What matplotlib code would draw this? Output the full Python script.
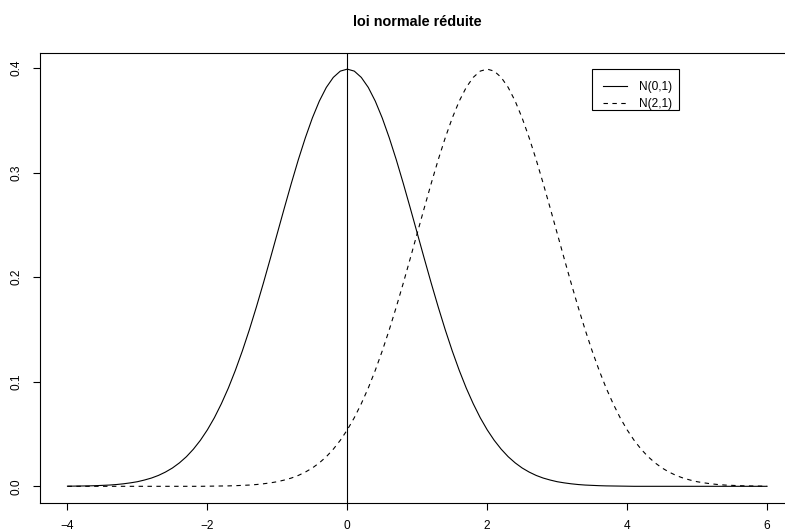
import matplotlib
matplotlib.use("Agg")
import matplotlib.pyplot as plt
from matplotlib.patches import Rectangle

plt.rcParams['font.family'] = ['Liberation Sans', 'DejaVu Sans']

title = "loi normale réduite"
labels = ["N(0,1)", "N(2,1)"]
xticks = [-4, -2, 0, 2, 4, 6]
yticks = [0.0, 0.1, 0.2, 0.3, 0.4]
ytick_labels = ["0.0", "0.1", "0.2", "0.3", "0.4"]

x = [-4.0, -3.9, -3.8, -3.7, -3.6, -3.5, -3.4, -3.3, -3.2, -3.1,
     -3.0, -2.9, -2.8, -2.7, -2.6, -2.5, -2.4, -2.3, -2.2, -2.1,
     -2.0, -1.9, -1.8, -1.7, -1.6, -1.5, -1.4, -1.3, -1.2, -1.1,
     -1.0, -0.9, -0.8, -0.7, -0.6, -0.5, -0.4, -0.3, -0.2, -0.1,
     0.0, 0.1, 0.2, 0.3, 0.4, 0.5, 0.6, 0.7, 0.8, 0.9,
     1.0, 1.1, 1.2, 1.3, 1.4, 1.5, 1.6, 1.7, 1.8, 1.9,
     2.0, 2.1, 2.2, 2.3, 2.4, 2.5, 2.6, 2.7, 2.8, 2.9,
     3.0, 3.1, 3.2, 3.3, 3.4, 3.5, 3.6, 3.7, 3.8, 3.9,
     4.0, 4.1, 4.2, 4.3, 4.4, 4.5, 4.6, 4.7, 4.8, 4.9,
     5.0, 5.1, 5.2, 5.3, 5.4, 5.5, 5.6, 5.7, 5.8, 5.9,
     6.0]

n01 = [0.0001, 0.0002, 0.0003, 0.0004, 0.0006, 0.0009, 0.0012, 0.0017, 0.0024, 0.0033,
       0.0044, 0.0060, 0.0079, 0.0104, 0.0136, 0.0175, 0.0224, 0.0283, 0.0355, 0.0440,
       0.0540, 0.0656, 0.0790, 0.0940, 0.1109, 0.1295, 0.1497, 0.1714, 0.1942, 0.2179,
       0.2420, 0.2661, 0.2897, 0.3123, 0.3332, 0.3521, 0.3683, 0.3814, 0.3910, 0.3970,
       0.3989, 0.3970, 0.3910, 0.3814, 0.3683, 0.3521, 0.3332, 0.3123, 0.2897, 0.2661,
       0.2420, 0.2179, 0.1942, 0.1714, 0.1497, 0.1295, 0.1109, 0.0940, 0.0790, 0.0656,
       0.0540, 0.0440, 0.0355, 0.0283, 0.0224, 0.0175, 0.0136, 0.0104, 0.0079, 0.0060,
       0.0044, 0.0033, 0.0024, 0.0017, 0.0012, 0.0009, 0.0006, 0.0004, 0.0003, 0.0002,
       0.0001, 0.0000, 0.0000, 0.0000, 0.0000, 0.0000, 0.0000, 0.0000, 0.0000, 0.0000,
       0.0000, 0.0000, 0.0000, 0.0000, 0.0000, 0.0000, 0.0000, 0.0000, 0.0000, 0.0000,
       0.0000]

n21 = [0.0000, 0.0000, 0.0000, 0.0000, 0.0000, 0.0000, 0.0000, 0.0000, 0.0000, 0.0000,
       0.0000, 0.0000, 0.0000, 0.0000, 0.0000, 0.0000, 0.0000, 0.0000, 0.0000, 0.0000,
       0.0001, 0.0002, 0.0003, 0.0004, 0.0006, 0.0009, 0.0012, 0.0017, 0.0024, 0.0033,
       0.0044, 0.0060, 0.0079, 0.0104, 0.0136, 0.0175, 0.0224, 0.0283, 0.0355, 0.0440,
       0.0540, 0.0656, 0.0790, 0.0940, 0.1109, 0.1295, 0.1497, 0.1714, 0.1942, 0.2179,
       0.2420, 0.2661, 0.2897, 0.3123, 0.3332, 0.3521, 0.3683, 0.3814, 0.3910, 0.3970,
       0.3989, 0.3970, 0.3910, 0.3814, 0.3683, 0.3521, 0.3332, 0.3123, 0.2897, 0.2661,
       0.2420, 0.2179, 0.1942, 0.1714, 0.1497, 0.1295, 0.1109, 0.0940, 0.0790, 0.0656,
       0.0540, 0.0440, 0.0355, 0.0283, 0.0224, 0.0175, 0.0136, 0.0104, 0.0079, 0.0060,
       0.0044, 0.0033, 0.0024, 0.0017, 0.0012, 0.0009, 0.0006, 0.0004, 0.0003, 0.0002,
       0.0001]

W, H = 785, 531
fig = plt.figure(figsize=(W / 100, H / 100), dpi=100)
left, right, top, bottom = 39.5, 795.0, 52.5, 503.0
ax = fig.add_axes([left / W, 1 - bottom / H, (right - left) / W, (bottom - top) / H])

lw = 0.8
ax.plot(x, n01, color='black', linewidth=lw, linestyle='-', label=labels[0])
ax.plot(x, n21, color='black', linewidth=lw, linestyle=(0, (4, 4)), label=labels[1])
ax.axvline(0, color='black', linewidth=lw)

ax.set_xlim(-4.4, 6.4)
ax.set_ylim(-0.01596, 0.4148)

ax.set_xticks(xticks)
ax.set_xticklabels([str(t).replace('-', '\u2212') for t in xticks])
ax.set_yticks(yticks)
ax.set_yticklabels(ytick_labels, rotation=90, va='center')

ax.tick_params(axis='both', direction='out', length=5, width=lw, labelsize=8.6, colors='black')
ax.tick_params(axis='x', pad=7.5)
ax.tick_params(axis='y', pad=7)

for s in ['left', 'top', 'bottom']:
    ax.spines[s].set_linewidth(lw)
    ax.spines[s].set_color('black')
ax.spines['right'].set_visible(False)

fig.text((left + right) / 2 / W, 1 - 22 / H, title, ha='center', va='center',
         fontsize=10.4, fontweight='bold')

leg = ax.legend(loc='upper left', bbox_to_anchor=(603 / W, 1 - 81.5 / H),
                bbox_transform=fig.transFigure, fontsize=8.6, frameon=False,
                handlelength=2.0, handletextpad=1.0, labelspacing=0.37,
                borderpad=0.0, borderaxespad=0.0)

box = Rectangle((592 / W, 1 - 110 / H), (679 - 592) / W, (110 - 69) / H,
                transform=fig.transFigure, fill=False, edgecolor='black',
                linewidth=lw, zorder=5)
fig.patches.append(box)

fig.savefig("out.png", dpi=100)
